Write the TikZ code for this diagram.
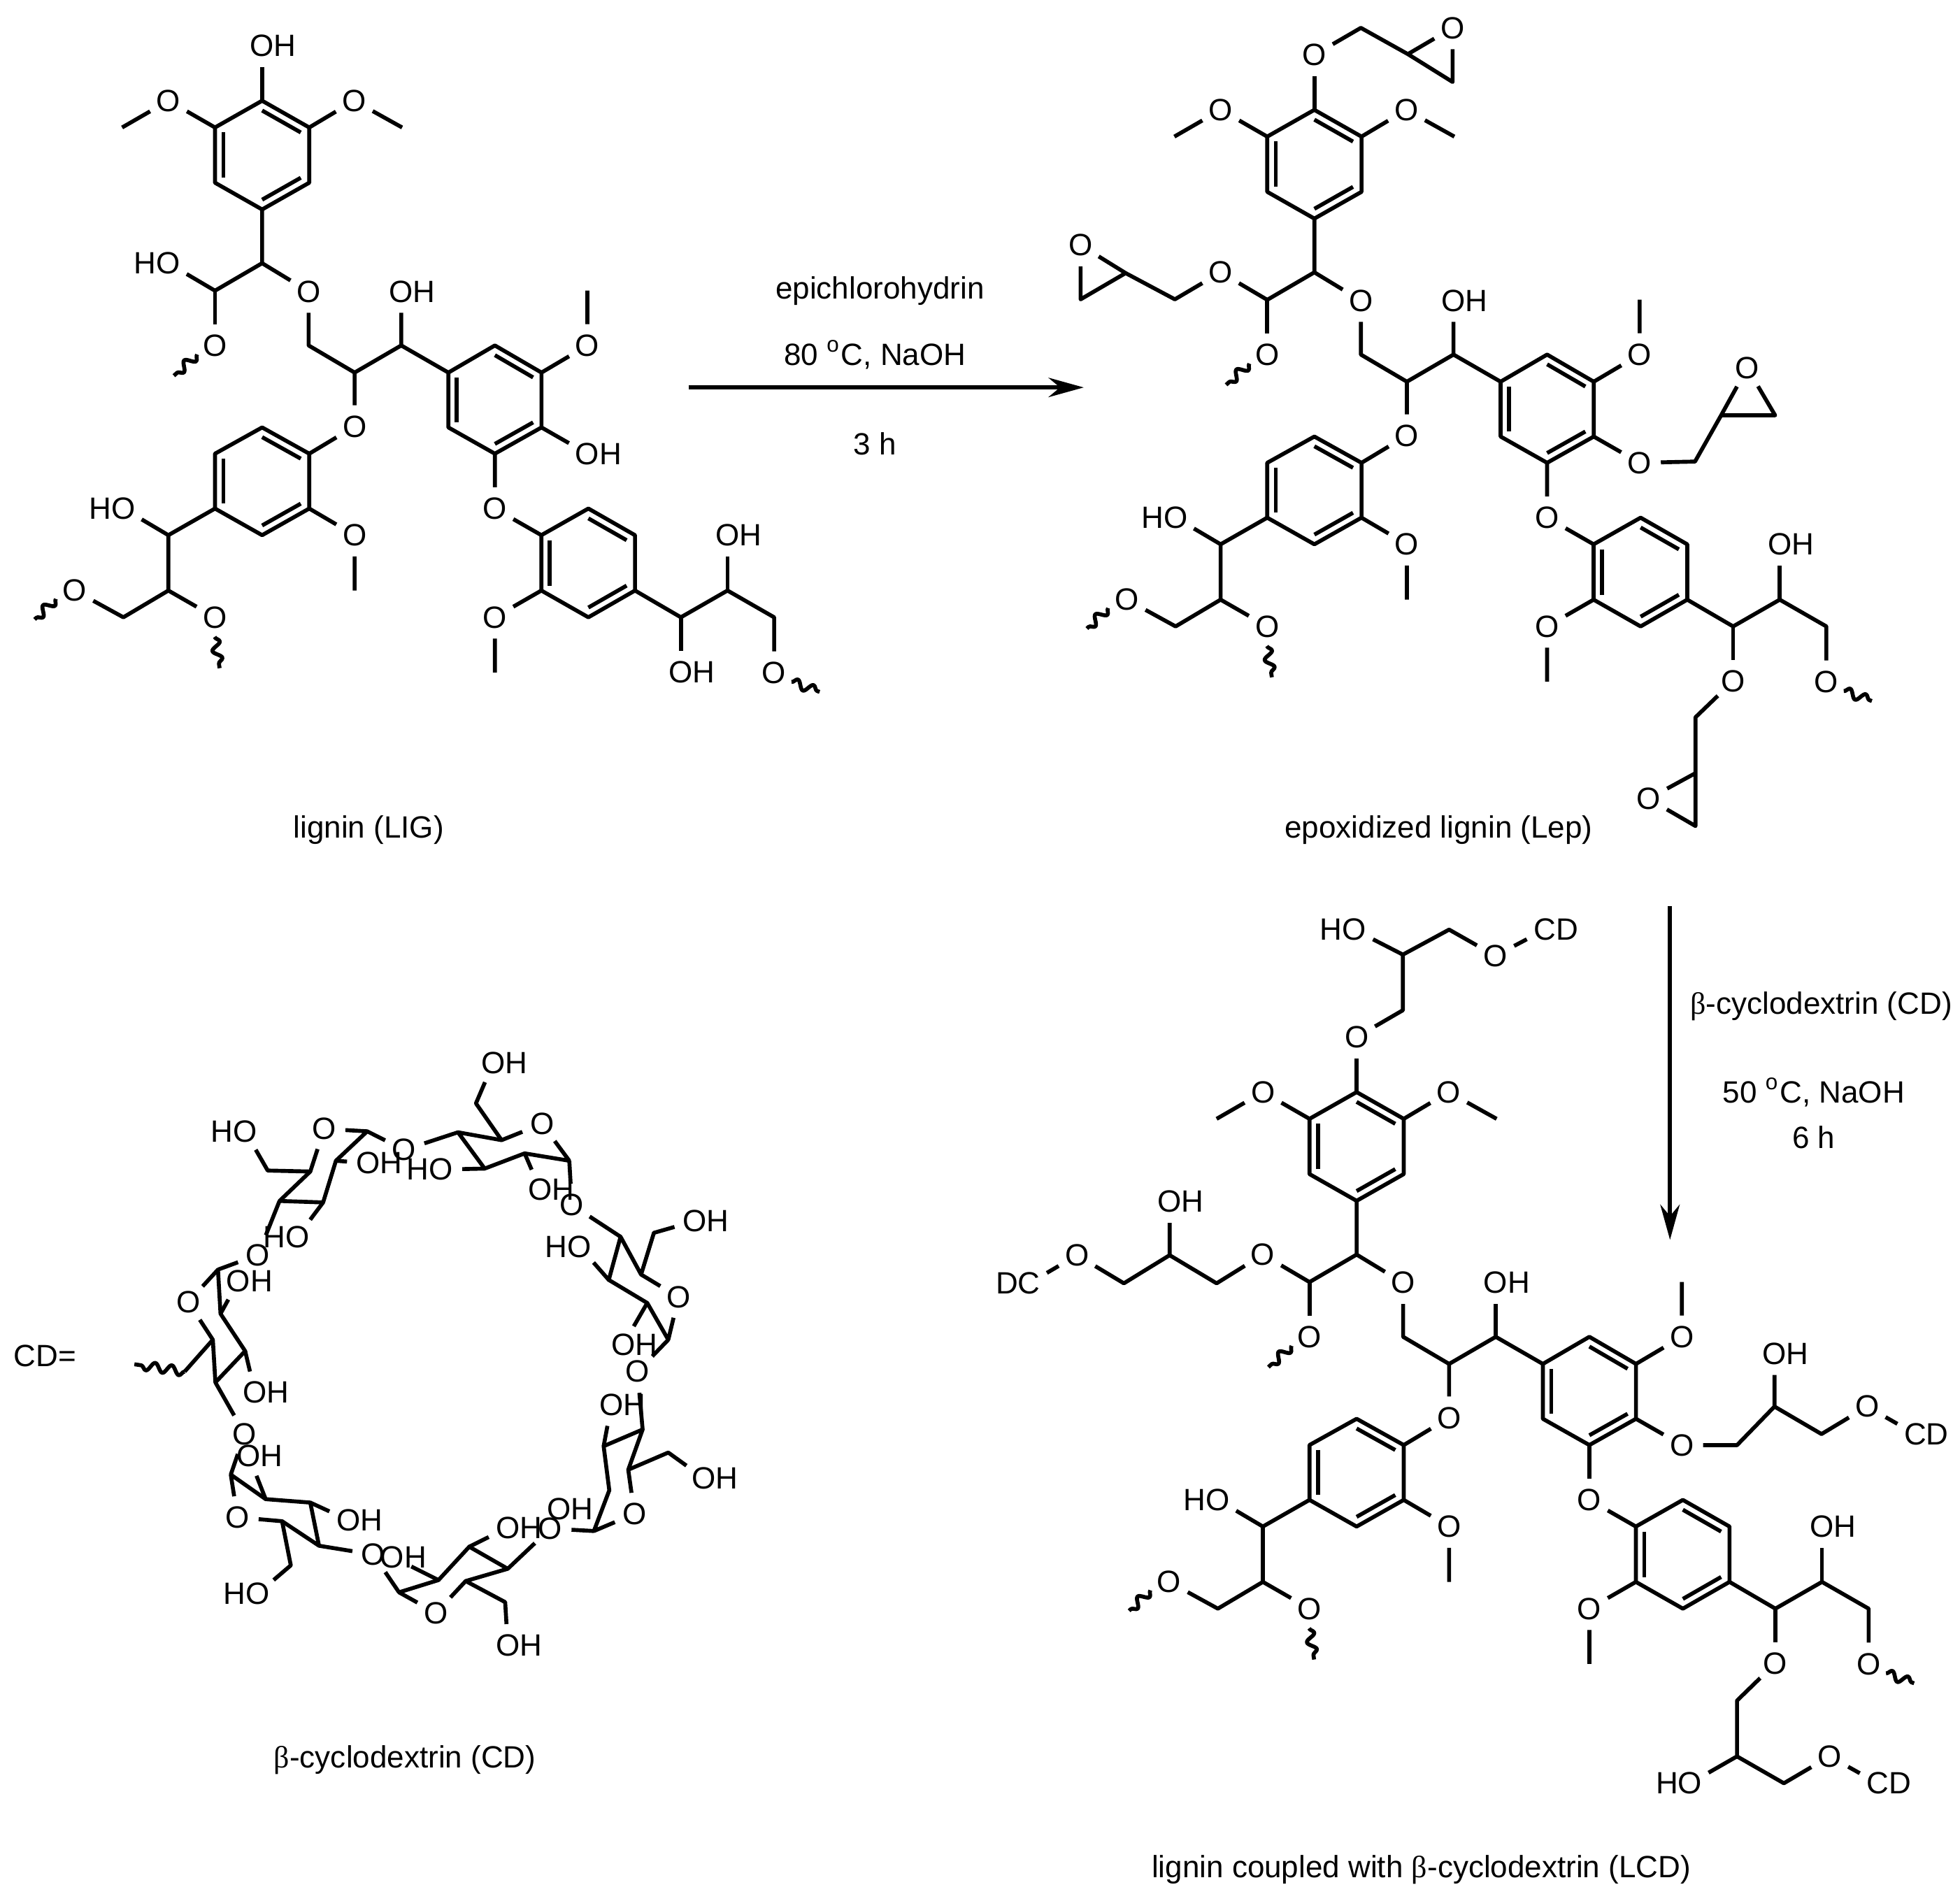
\documentclass[tikz,border=0pt]{standalone}
\usepackage{fontspec}
\setmainfont{Liberation Sans}
\newfontfamily\grkfont{Liberation Serif}
\usetikzlibrary{arrows.meta, calc, decorations.pathmorphing}

\tikzset{
	atom/.style={circle, inner sep=0.5pt, font=\fontsize{7}{8}\selectfont},
	lbl/.style={inner sep=0pt, font=\fontsize{7}{8}\selectfont},
	squig/.style={decorate, decoration={snake, amplitude=1pt, segment length=3.8pt}},
	rxn/.style={line width=1pt, -{Stealth[length=8pt, width=4.4pt]}}
}

% inner line of a double bond: end, end, ring centre
\newcommand{\dbl}[3]{\draw ($(#1)!.18!(#3)$) -- ($(#2)!.18!(#3)$);}

% lignin skeleton, the four arguments are the texts of the outer oxygens
\newcommand{\ligcore}[4]{
	\coordinate (a1) at (0,0);
	\coordinate (a2) at (37.7,21.4);
	\coordinate (a3) at (37.7,65.6);
	\coordinate (a4) at (0,87);
	\coordinate (a5) at (-37.7,65.6);
	\coordinate (a6) at (-37.7,21.4);
	\coordinate (ca) at (0,43.5);
	\coordinate (b1) at (0,130);
	\coordinate (b2) at (-37.7,152);
	\coordinate (c1) at (37.2,195.8);
	\coordinate (c2) at (74,217.5);
	\coordinate (c3) at (111.3,195.8);
	\coordinate (d1) at (149,217.5);
	\coordinate (d2) at (186.2,195.8);
	\coordinate (d3) at (223.5,217.5);
	\coordinate (d4) at (223.5,261.4);
	\coordinate (d5) at (186.2,282.4);
	\coordinate (d6) at (149,261.4);
	\coordinate (cb) at (186.2,239);
	\coordinate (e1) at (223.4,347.6);
	\coordinate (e2) at (261,326.3);
	\coordinate (e3) at (298.3,347.6);
	\coordinate (e4) at (298.3,391.9);
	\coordinate (e5) at (261,413.3);
	\coordinate (e6) at (223.4,391.9);
	\coordinate (cd) at (261,370);
	\coordinate (f1) at (335,413.3);
	\coordinate (f2) at (372.3,391.9);
	\coordinate (f3) at (409.6,413.3);
	\coordinate (g1) at (37.7,282.4);
	\coordinate (g2) at (0,261.4);
	\coordinate (g3) at (-37.7,282.4);
	\coordinate (g4) at (-37.7,326.3);
	\coordinate (g5) at (0,347.6);
	\coordinate (g6) at (37.7,326.3);
	\coordinate (cc) at (0,304.5);
	\coordinate (h1) at (-75,347.6);
	\coordinate (h2) at (-75,391.9);
	\coordinate (h3) at (-111,413.3);
	\coordinate (meL) at (-112,21.4);
	\coordinate (meR) at (112,21.4);
	\coordinate (meB) at (260.2,151.9);
	\coordinate (meC) at (74,391.9);
	\coordinate (meD) at (186.2,457.5);
	\node[atom] (otop) at (0,-44) {#1};
	\node[atom] (oleft) at (-75,130) {#2};
	\node[atom] (oright) at (260.2,282.4) {#3};
	\node[atom] (obot) at (335,457) {#4};
	\node[atom] (oL) at (-74.9,0) {O};
	\node[atom] (oR) at (73.6,0) {O};
	\node[atom] (oa) at (-37.7,195.8) {O};
	\node[atom] (ob) at (37.2,152.6) {O};
	\node[atom] (oc) at (111.3,152.6) {O\rlap{H}};
	\node[atom] (od) at (74,260.6) {O};
	\node[atom] (oe) at (260.2,195.8) {O};
	\node[atom] (of) at (186.2,326.3) {O};
	\node[atom] (og) at (186.2,413.3) {O};
	\node[atom] (oh) at (372.3,347.6) {O\rlap{H}};
	\node[atom] (oi) at (409.6,457.5) {O};
	\node[atom] (oj) at (74,347.6) {O};
	\node[atom] (ok) at (-111,326.3) {\llap{H}O};
	\node[atom] (ol) at (-37.7,413.3) {O};
	\node[atom] (om) at (-150,391.9) {O};
	\draw (a1) -- (a2) -- (a3) -- (a4) -- (a5) -- (a6) -- cycle;
	\dbl{a1}{a2}{ca} \dbl{a3}{a4}{ca} \dbl{a5}{a6}{ca}
	\draw (a1) -- (otop);
	\draw (a6) -- (oL) -- (meL);
	\draw (a2) -- (oR) -- (meR);
	\draw (a4) -- (b1) -- (b2) -- (oleft);
	\draw (b2) -- (oa);
	\draw (b1) -- (ob) -- (c1) -- (c2) -- (c3) -- (oc);
	\draw (c3) -- (d1) -- (d2) -- (d3) -- (d4) -- (d5) -- (d6) -- (d1);
	\dbl{d2}{d3}{cb} \dbl{d4}{d5}{cb} \dbl{d6}{d1}{cb}
	\draw (d3) -- (oe) -- (meB);
	\draw (d4) -- (oright);
	\draw (d5) -- (of) -- (e1) -- (e2) -- (e3) -- (e4) -- (e5) -- (e6) -- (e1);
	\dbl{e1}{e6}{cd} \dbl{e2}{e3}{cd} \dbl{e4}{e5}{cd}
	\draw (e6) -- (og) -- (meD);
	\draw (e4) -- (f1) -- (f2) -- (f3) -- (oi);
	\draw (f2) -- (oh);
	\draw (f1) -- (obot);
	\draw (c2) -- (od) -- (g1) -- (g2) -- (g3) -- (g4) -- (g5) -- (g6) -- (g1);
	\dbl{g1}{g2}{cc} \dbl{g3}{g4}{cc} \dbl{g5}{g6}{cc}
	\draw (g6) -- (oj) -- (meC);
	\draw (g4) -- (h1) -- (ok);
	\draw (h1) -- (h2) -- (ol);
	\draw (h2) -- (h3) -- (om);
	\coordinate (q1a) at (-52,203);
	\coordinate (q1b) at (-70.6,220);
	\coordinate (q2a) at (-38,429);
	\coordinate (q2b) at (-34,454);
	\coordinate (q3a) at (-165,398.6);
	\coordinate (q3b) at (-182,415);
	\coordinate (q4a) at (423.5,465);
	\coordinate (q4b) at (446,473);
	\draw[squig] (q1a) -- (q1b);
	\draw[squig] (q2a) -- (q2b);
	\draw[squig] (q3a) -- (q3b);
	\draw[squig] (q4a) -- (q4b);
}

\begin{document}
\begin{tikzpicture}[x=0.01cm, y=-0.01cm, line width=0.9pt, line join=round]
	\useasboundingbox (0,0) rectangle (1568,1521);

	% lignin
	\begin{scope}[shift={(209.7,80.6)}, name prefix=lig-]
		\ligcore{O\rlap{H}}{\llap{H}O}{O\rlap{H}}{O\rlap{H}}
	\end{scope}

	% epoxidized lignin
	\begin{scope}[shift={(1051.5,87.9)}, name prefix=lep-]
		\ligcore{O}{O}{O}{O}
		\coordinate (t1) at (37.2,-65.6);
		\coordinate (t2) at (74.8,-44.6);
		\coordinate (t3) at (110.6,-22.3);
		\node[atom] (tO) at (110.6,-65.6) {O};
		\draw (otop) -- (t1) -- (t2) -- (tO) -- (t3) -- (t2);
		\coordinate (l1) at (-111.6,151.6);
		\coordinate (l2) at (-151,130.6);
		\coordinate (l3) at (-187,151.6);
		\node[atom] (lO) at (-187,108.3) {O};
		\draw (oleft) -- (l1) -- (l2) -- (lO) -- (l3) -- (l2);
		\coordinate (r1) at (304.5,281.4);
		\coordinate (r2) at (325.4,244.4);
		\coordinate (r3) at (368.6,244.4);
		\node[atom] (rO) at (346.3,206.5) {O};
		\draw (oright) -- (r1) -- (r2) -- (rO) -- (r3) -- (r2);
		\coordinate (u1) at (304.9,486);
		\coordinate (u2) at (304.9,530.7);
		\coordinate (u3) at (304.9,573);
		\node[atom] (uO) at (267.3,551.2) {O};
		\draw (obot) -- (u1) -- (u2) -- (uO) -- (u3) -- (u2);
	\end{scope}

	% lignin with cyclodextrin
	\begin{scope}[shift={(1085.3,873.8)}, name prefix=lcd-]
		\ligcore{O}{O}{O}{O}
		\coordinate (t1) at (37,-65.5);
		\coordinate (t2) at (37,-110);
		\coordinate (t3) at (74,-130);
		\node[atom] (tA) at (-2,-130) {\llap{H}O};
		\node[atom] (tB) at (111,-109) {O};
		\node[atom] (tC) at (150.7,-130) {C\rlap{D}};
		\draw (otop) -- (t1) -- (t2) -- (tA);
		\draw (t2) -- (t3) -- (tB) -- (tC);
		\coordinate (l1) at (-112,153);
		\coordinate (l2) at (-149.6,130.5);
		\coordinate (l3) at (-186.2,153);
		\node[atom] (lA) at (-149.6,87.6) {O\rlap{H}};
		\node[atom] (lB) at (-223.7,130.5) {O};
		\node[atom] (lC) at (-262,153) {\llap{D}C};
		\draw (oleft) -- (l1) -- (l2) -- (lA);
		\draw (l2) -- (l3) -- (lB) -- (lC);
		\coordinate (r1) at (304.3,282.5);
		\coordinate (r2) at (334.3,251.6);
		\coordinate (r3) at (371.9,273.6);
		\node[atom] (rA) at (334.3,209.3) {O\rlap{H}};
		\node[atom] (rB) at (408.4,251.6) {O};
		\node[atom] (rC) at (446.9,273.6) {C\rlap{D}};
		\draw (oright) -- (r1) -- (r2) -- (rA);
		\draw (r2) -- (r3) -- (rB) -- (rC);
		\coordinate (u1) at (304.3,486.9);
		\coordinate (u2) at (304.3,531.5);
		\coordinate (u3) at (341.8,553);
		\node[atom] (uA) at (266.8,553) {\llap{H}O};
		\node[atom] (uB) at (378.4,531.5) {O};
		\node[atom] (uC) at (416.9,553) {C\rlap{D}};
		\draw (obot) -- (u1) -- (u2) -- (uA);
		\draw (u2) -- (u3) -- (uB) -- (uC);
	\end{scope}

	% cyclodextrin ring, traced in its own scale
	\begin{scope}[shift={(0,811)}, xscale=.4103, yscale=.3924]
		% bridging oxygens
		\node[atom] (br1) at (788,278) {O};
		\node[atom] (br2) at (1115,390) {O};
		\node[atom] (br3) at (1243,730) {O};
		\node[atom] (br4) at (1073,1050) {O};
		\node[atom] (br5) at (728,1103) {O};
		\node[atom] (br6) at (477,857) {O};
		\node[atom] (br7) at (503,492) {O};
		% unit 1
		\node[atom] (o1) at (632,235) {O};
		\node[atom] (h1a) at (478,240) {\llap{H}O};
		\node[atom] (h1b) at (718,305) {O\rlap{H}};
		\node[atom] (h1c) at (580,455) {\llap{H}O};
		\coordinate (k1a) at (716,240);
		\coordinate (k1b) at (655,300);
		\coordinate (k1c) at (630,385);
		\coordinate (k1d) at (545,382);
		\coordinate (k1e) at (605,322);
		\coordinate (k1f) at (522,320);
		\draw (br1) -- (k1a) -- (o1) -- (k1e) -- (k1d) -- (k1c) -- (k1b) -- (k1a);
		\draw (k1e) -- (k1f) -- (h1a);
		\draw (k1b) -- (h1b);
		\draw (k1c) -- (h1c);
		\draw (k1d) -- (br7);
		% unit 2
		\node[atom] (o2) at (1057,225) {O};
		\node[atom] (h2a) at (962,100) {O\rlap{H}};
		\node[atom] (h2b) at (860,318) {\llap{H}O};
		\node[atom] (h2c) at (1053,358) {O\rlap{H}};
		\coordinate (k2a) at (893,242);
		\coordinate (k2b) at (978,258);
		\coordinate (k2c) at (1110,300);
		\coordinate (k2d) at (1023,285);
		\coordinate (k2e) at (945,316);
		\coordinate (k2f) at (928,183);
		\draw (br1) -- (k2a) -- (k2b) -- (o2) -- (k2c) -- (k2d) -- (k2e) -- (k2a);
		\draw (k2b) -- (k2f) -- (h2a);
		\draw (k2e) -- (h2b);
		\draw (k2d) -- (h2c);
		\draw (k2c) -- (br2);
		% unit 3
		\node[atom] (o3) at (1323,578) {O};
		\node[atom] (h3a) at (1355,423) {O\rlap{H}};
		\node[atom] (h3b) at (1130,475) {\llap{H}O};
		\node[atom] (h3c) at (1215,675) {O\rlap{H}};
		\coordinate (k3a) at (1210,455);
		\coordinate (k3b) at (1250,532);
		\coordinate (k3c) at (1303,665);
		\coordinate (k3d) at (1262,590);
		\coordinate (k3e) at (1187,543);
		\coordinate (k3f) at (1275,447);
		\draw (br2) -- (k3a) -- (k3b) -- (o3) -- (k3c) -- (k3d) -- (k3e) -- (k3a);
		\draw (k3b) -- (k3f) -- (h3a);
		\draw (k3e) -- (h3b);
		\draw (k3d) -- (h3c);
		\draw (k3c) -- (br3);
		% unit 4
		\node[atom] (o4) at (1237,1020) {O};
		\node[atom] (h4a) at (1192,798) {O\rlap{H}};
		\node[atom] (h4b) at (1372,947) {O\rlap{H}};
		\node[atom] (h4c) at (1090,1010) {O\rlap{H}};
		\coordinate (k4a) at (1253,848);
		\coordinate (k4b) at (1225,930);
		\coordinate (k4c) at (1158,1055);
		\coordinate (k4d) at (1188,972);
		\coordinate (k4e) at (1177,882);
		\coordinate (k4f) at (1303,895);
		\draw (br3) -- (k4a) -- (k4b) -- (o4) -- (k4c) -- (k4d) -- (k4e) -- (k4a);
		\draw (k4e) -- (h4a);
		\draw (k4b) -- (k4f) -- (h4b);
		\draw (k4c) -- (br4);
		% unit 5
		\node[atom] (o5) at (850,1222) {O};
		\node[atom] (h5a) at (990,1048) {O\rlap{H}};
		\node[atom] (h5b) at (765,1108) {O\rlap{H}};
		\node[atom] (h5c) at (990,1288) {O\rlap{H}};
		\coordinate (k5a) at (990,1132);
		\coordinate (k5b) at (915,1087);
		\coordinate (k5c) at (855,1155);
		\coordinate (k5d) at (778,1180);
		\coordinate (k5e) at (908,1157);
		\coordinate (k5f) at (985,1200);
		\draw (br4) -- (k5a) -- (k5b) -- (k5c) -- (k5d) -- (o5) -- (k5e) -- (k5a);
		\draw (k5b) -- (h5a);
		\draw (k5c) -- (h5b);
		\draw (k5e) -- (k5f) -- (h5c);
		\draw (k5d) -- (br5);
		% unit 6
		\node[atom] (o6) at (463,1027) {O};
		\node[atom] (h6a) at (680,1033) {O\rlap{H}};
		\node[atom] (h6b) at (485,902) {O\rlap{H}};
		\node[atom] (h6c) at (502,1183) {\llap{H}O};
		\coordinate (k6a) at (622,1085);
		\coordinate (k6b) at (550,1035);
		\coordinate (k6c) at (450,940);
		\coordinate (k6d) at (518,990);
		\coordinate (k6e) at (605,997);
		\coordinate (k6f) at (567,1125);
		\draw (br5) -- (k6a) -- (k6b) -- (o6) -- (k6c) -- (k6d) -- (k6e) -- (k6a);
		\draw (k6e) -- (h6a);
		\draw (k6d) -- (h6b);
		\draw (k6b) -- (k6f) -- (h6c);
		\draw (k6c) -- (br6);
		% unit 7
		\node[atom] (o7) at (367,588) {O};
		\node[atom] (h7a) at (497,772) {O\rlap{H}};
		\node[atom] (h7b) at (465,545) {O\rlap{H}};
		\coordinate (k7a) at (420,752);
		\coordinate (k7b) at (478,688);
		\coordinate (k7c) at (430,612);
		\coordinate (k7d) at (425,522);
		\coordinate (k7e) at (415,665);
		\coordinate (k7f) at (360,730);
		\coordinate (k7g) at (262,715);
		\draw (br6) -- (k7a) -- (k7b) -- (k7c) -- (k7d) -- (o7) -- (k7e) -- (k7a);
		\draw (k7b) -- (h7a);
		\draw (k7c) -- (h7b);
		\draw (k7d) -- (br7);
		\draw (k7e) -- (k7f);
		\draw[squig] (k7f) -- (k7g);
	\end{scope}

	% arrows and captions
	\coordinate (arrAa) at (551,310);
	\coordinate (arrAb) at (867,310);
	\coordinate (arrBa) at (1336,725);
	\coordinate (arrBb) at (1336,992);
	\draw[rxn] (arrAa) -- (arrAb);
	\draw[rxn] (arrBa) -- (arrBb);
	\node[lbl] (epi) at (704,233) {epichlorohydrin};
	\node[lbl] (cond1) at (700,284) {80 \textsuperscript{o}C, NaOH};
	\node[lbl] (time1) at (700,355) {3 h};
	\node[lbl] (cdtxt) at (1457,805) {{\grkfont β}-cyclodextrin (CD)};
	\node[lbl] (cond2) at (1451,874) {50 \textsuperscript{o}C, NaOH};
	\node[lbl] (time2) at (1451,910) {6 h};
	\node[lbl] (capLig) at (295,664) {lignin (LIG)};
	\node[lbl] (capLep) at (1151,664) {epoxidized lignin (Lep)};
	\node[lbl] (capCd) at (324,1408) {{\grkfont β}-cyclodextrin (CD)};
	\node[lbl] (capLcd) at (1137,1496) {lignin coupled with {\grkfont β}-cyclodextrin (LCD)};
	\node[lbl] (cdeq) at (36,1085) {CD=};
\end{tikzpicture}
\end{document}
